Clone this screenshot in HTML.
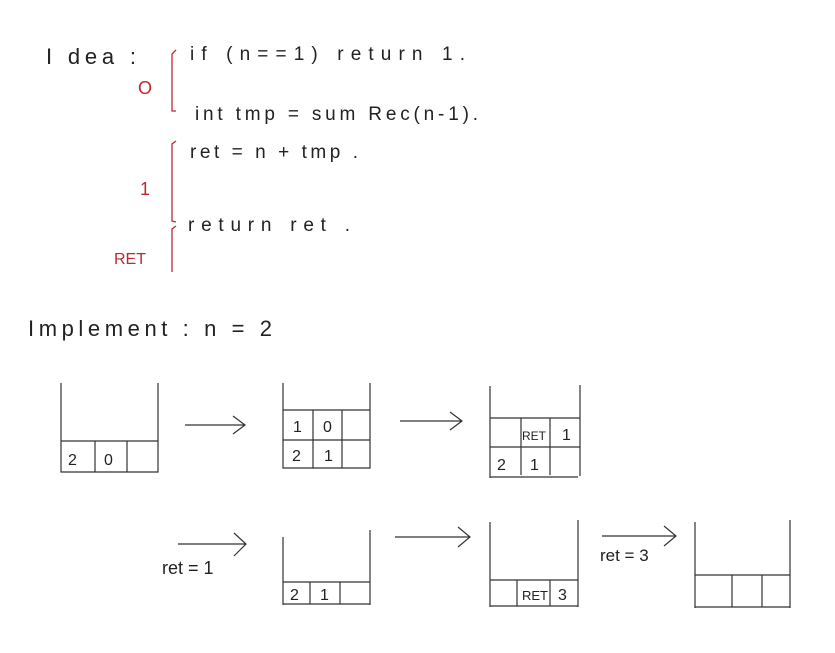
<!DOCTYPE html>
<html><head><meta charset="utf-8"><style>
html,body{margin:0;padding:0;background:#fff;}
svg{display:block;}
text{font-family:"Liberation Sans",sans-serif;fill:#222;}
.r{fill:#c0282d;}
</style></head><body>
<svg width="835" height="653" viewBox="0 0 835 653" xmlns="http://www.w3.org/2000/svg">
<g font-size="19">
<text x="46" y="64" font-size="22" textLength="90" lengthAdjust="spacing">I dea :</text>
<text x="190" y="60" textLength="275" lengthAdjust="spacing">if  (n==1)    return 1.</text>
<text x="195" y="120" textLength="283" lengthAdjust="spacing">int  tmp = sum Rec(n-1).</text>
<text x="190" y="158" textLength="168" lengthAdjust="spacing">ret = n + tmp .</text>
<text x="188" y="231" textLength="162" lengthAdjust="spacing">return   ret .</text>
<text x="28" y="336" font-size="22" textLength="244" lengthAdjust="spacing">Implement :    n = 2</text>
</g>
<g font-size="18">
<text class="r" x="138" y="94">O</text>
<text class="r" x="140" y="195">1</text>
<text class="r" x="114" y="264" font-size="16">RET</text>
</g>
<g stroke="#c0282d" stroke-width="1.3" fill="none">
<path d="M176 50 L172 54 L172 111 L176 111"/>
<path d="M176 141 L172 144 L172 221 L176 222"/>
<path d="M176 226 L172 229 L172 272"/>
</g>
<g stroke="#333" stroke-width="1.2" fill="none">
<path d="M61 383 V472 H158 V383 M61 441 H158 M95 441 V472 M127 441 V472"/>
<path d="M185 425 H245 M233 416 L245 425 L233 434"/>
<path d="M283 383 V468 H370 V383 M283 410 H370 M283 440 H370 M313 410 V468 M342 410 V468"/>
<path d="M400 421 H462 M450 412 L462 421 L450 430"/>
<path d="M490 386 V478 M580 385 V476 M490 418 H580 M490 447 H580 M490 477 H578 M521 418 V475 M550 418 V475"/>
<path d="M178 544 H246 M234 533 L246 544 L234 556"/>
<path d="M283 537 V605 M370 530 V605 M283 582 H370 M283 604 H370 M310 582 V604 M340 582 V604"/>
<path d="M395 537 H470 M458 527 L470 537 L458 547"/>
<path d="M490 522 V607 M578 520 V607 M490 580 H578 M490 606 H578 M517 580 V606 M550 580 V606"/>
<path d="M602 536 H676 M664 526 L676 536 L664 546"/>
<path d="M695 522 V608 M790 520 V608 M695 575 H790 M695 607 H790 M732 575 V607 M762 575 V607"/>
</g>
<g font-size="16">
<text x="68" y="465">2</text><text x="104" y="465">0</text>
<text x="293" y="432">1</text><text x="323" y="432">0</text>
<text x="292" y="461">2</text><text x="324" y="461">1</text>
<text x="522" y="440" font-size="12">RET</text><text x="562" y="440">1</text>
<text x="497" y="470">2</text><text x="530" y="470">1</text>
<text x="290" y="600">2</text><text x="320" y="600">1</text>
<text x="522" y="600" font-size="13">RET</text><text x="558" y="600">3</text>
<text x="162" y="574" font-size="18">ret = 1</text>
<text x="600" y="561" font-size="17">ret = 3</text>
</g>
</svg>
</body></html>
